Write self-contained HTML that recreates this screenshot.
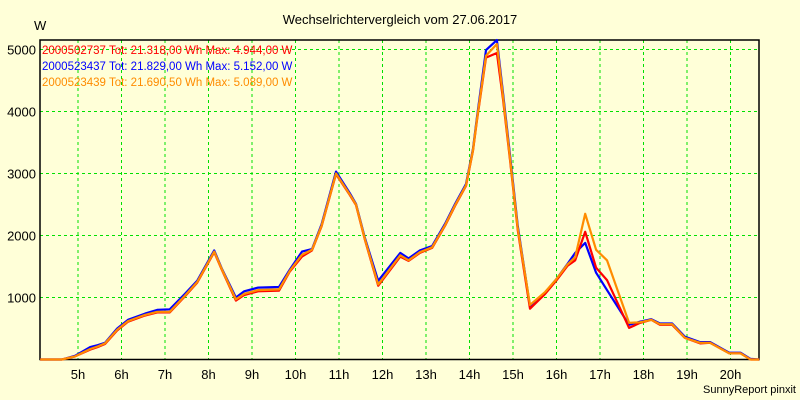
<!DOCTYPE html>
<html><head><meta charset="utf-8"><style>
body{margin:0;background:#ffffd8;}
svg{display:block;font-family:"Liberation Sans",sans-serif;}
</style></head><body>
<svg id="chart" width="800" height="400">
<rect x="0" y="0" width="800" height="400" fill="#ffffd8"/>
<text x="400" y="24" text-anchor="middle" font-size="13">Wechselrichtervergleich vom 27.06.2017</text>
<text x="34" y="30" font-size="13">W</text>
<text x="796" y="393" text-anchor="end" font-size="11">SunnyReport pinxit</text>
<g id="grid"></g><g id="axes"></g><g id="series"></g><g id="legend"></g>
</svg>
<script>
const times=[4.13,4.63,4.93,5.28,5.45,5.62,5.9,6.15,6.54,6.82,7.11,7.46,7.74,8.13,8.31,8.63,8.82,9.14,9.62,9.87,10.15,10.38,10.6,10.93,11.25,11.39,11.6,11.9,12.41,12.6,12.86,13.14,13.44,13.67,13.92,14.08,14.17,14.38,14.63,14.77,14.93,15.11,15.39,15.74,15.99,16.25,16.43,16.66,16.91,17.16,17.67,17.92,18.18,18.38,18.66,18.95,19.3,19.53,19.97,20.23,20.46,20.66];
const redVals=[0,0,50,160,200,250,470,610,710,760,760,1020,1240,1730,1440,950,1040,1100,1110,1420,1660,1760,2150,2990,2650,2490,1920,1190,1660,1590,1720,1800,2160,2480,2800,3370,3850,4870,4944,4200,3220,2080,820,1060,1270,1510,1600,2060,1480,1280,510,590,640,560,560,350,260,270,100,100,0,0];
const blueVals=[0,0,60,200,230,270,500,640,740,800,810,1060,1270,1760,1460,1000,1100,1160,1170,1450,1740,1780,2180,3030,2680,2510,1950,1270,1720,1630,1760,1830,2190,2510,2830,3400,3900,4990,5152,4300,3300,2150,860,1080,1290,1540,1720,1880,1400,1120,560,610,650,580,580,370,280,280,110,110,10,0];
const orangeVals=[0,0,50,170,210,260,480,620,720,770,770,1030,1250,1740,1450,970,1060,1120,1130,1430,1690,1770,2160,3000,2660,2500,1930,1210,1680,1600,1730,1810,2170,2490,2810,3380,3870,4900,5089,4250,3250,2110,880,1090,1290,1530,1650,2350,1770,1600,590,600,640,570,570,350,270,270,100,100,0,0];
const yTicks=[1000,2000,3000,4000,5000];
const xTicks=[5,6,7,8,9,10,11,12,13,14,15,16,17,18,19,20];
const legendLabels=["2000502737 Tot: 21.318,00 Wh Max: 4.944,00 W","2000523437 Tot: 21.829,00 Wh Max: 5.152,00 W","2000523439 Tot: 21.690,50 Wh Max: 5.089,00 W"];
const L=40,R=759,T=40,B=359.5;
const xs=h=>78+(h-5)*43.5;
const ys=v=>B-v*0.062;
const NS="http://www.w3.org/2000/svg";
function mk(tag,attrs,parent){const e=document.createElementNS(NS,tag);for(const k in attrs)e.setAttribute(k,attrs[k]);parent.appendChild(e);return e;}
const grid=document.getElementById('grid'),axes=document.getElementById('axes'),ser=document.getElementById('series'),leg=document.getElementById('legend');
yTicks.forEach(v=>{
  const l=mk('line',{x1:L,x2:R,y1:ys(v),y2:ys(v),stroke:'#00e000','stroke-width':1,'stroke-dasharray':'3,3'},grid);
  
  
  const t=mk('text',{x:L-4,y:ys(v)+5,'text-anchor':'end','font-size':13},axes);
  t.textContent=v;
  
  
});
xTicks.forEach(h=>{
  const l=mk('line',{x1:xs(h),x2:xs(h),y1:T,y2:B,stroke:'#00e000','stroke-width':1,'stroke-dasharray':'3,3'},grid);
  
  
  const t=mk('text',{x:xs(h),y:379,'text-anchor':'middle','font-size':13},axes);
  t.textContent=h+'h';
  
  
});
const frame=mk('rect',{x:L,y:T,width:R-L,height:B-T,fill:'none',stroke:'#000','stroke-width':1.5},axes);


const series=[[blueVals,'#0000ff','series-2000523437'],[redVals,'#ff0000','series-2000502737'],[orangeVals,'#ff8c00','series-2000523439']];
series.forEach(s=>{
  const pts=times.map((t,i)=>xs(t).toFixed(1)+','+ys(s[0][i]).toFixed(1)).join(' ');
  const p=mk('polyline',{points:pts,fill:'none',stroke:s[1],'stroke-width':2.2,'stroke-linejoin':'round'},ser);
  
  
});
const legColors=['#ff0000','#0000ff','#ff8c00'];
legendLabels.forEach((lab,i)=>{
  const t=mk('text',{x:42,y:54+i*16,'font-size':11.5,fill:legColors[i]},leg);
  t.textContent=lab;
  
  
});
</script>
</body></html>
